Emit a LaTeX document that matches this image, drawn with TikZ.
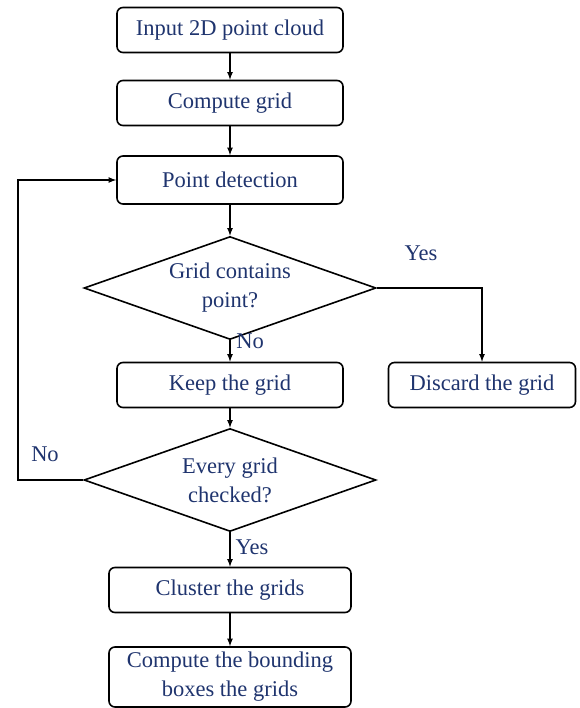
\documentclass[tikz,border=0pt]{standalone}
\usepackage{fontspec}
\setmainfont{Liberation Serif}
\usepackage{xcolor}
\usepackage{tikz}
\usetikzlibrary{shapes.geometric}

\definecolor{textblue}{RGB}{31,52,110}

\tikzset{
  procbox/.style={draw, black, line width=1.6pt, rounded corners=6pt, align=center,
    text=textblue, font=\fontsize{22.5}{29}\selectfont, inner sep=2pt},
  decbox/.style={draw, black, line width=1.6pt, diamond, aspect=2.84, inner sep=0pt,
    align=center, text=textblue, font=\fontsize{22.5}{29}\selectfont,
    minimum width=292pt, minimum height=103pt},
  flow/.style={->, >={latex[scale=1.3]}, line width=1.6pt},
  lbl/.style={text=textblue, font=\fontsize{22.5}{29}\selectfont, inner sep=0pt}
}

\begin{document}
\begin{tikzpicture}[x=1pt,y=-1pt]
\useasboundingbox (0,0) rectangle (579,708);
\node[procbox, minimum width=226pt, minimum height=45pt] (input) at (230,30) {Input 2D point cloud};
\node[procbox, minimum width=226pt, minimum height=45pt] (grid) at (230,103) {Compute grid};
\node[procbox, minimum width=226pt, minimum height=48pt] (detect) at (230,180) {Point detection};
\node[decbox] (contains) at (230,288) {Grid contains\\point?};
\node[procbox, minimum width=226pt, minimum height=45pt] (keep) at (230,385) {Keep the grid};
\node[procbox, minimum width=187pt, minimum height=45pt] (discard) at (482,385) {Discard the grid};
\node[decbox] (checked) at (230,480) {Every grid\\checked?};
\node[procbox, minimum width=242pt, minimum height=45pt] (cluster) at (230,590) {Cluster the grids};
\node[procbox, minimum width=242pt, minimum height=60pt] (bbox) at (230,677) {Compute the bounding\\boxes the grids};
\coordinate (back) at (18,480);

\draw[flow] (input) -- (grid);
\draw[flow] (grid) -- (detect);
\draw[flow] (detect) -- (contains);
\draw[flow] (contains.east) -| (discard.north);
\draw[flow] (contains) -- (keep);
\draw[flow] (keep) -- (checked);
\draw[flow] (checked.west) -- (back) |- (detect.west);
\draw[flow] (checked) -- (cluster);
\draw[flow] (cluster) -- (bbox);

\node[lbl] (yes1) at (421,253) {Yes};
\node[lbl] (no1) at (250,341) {No};
\node[lbl] (no2) at (45,454) {No};
\node[lbl] (yes2) at (252,547) {Yes};
\end{tikzpicture}
\end{document}
